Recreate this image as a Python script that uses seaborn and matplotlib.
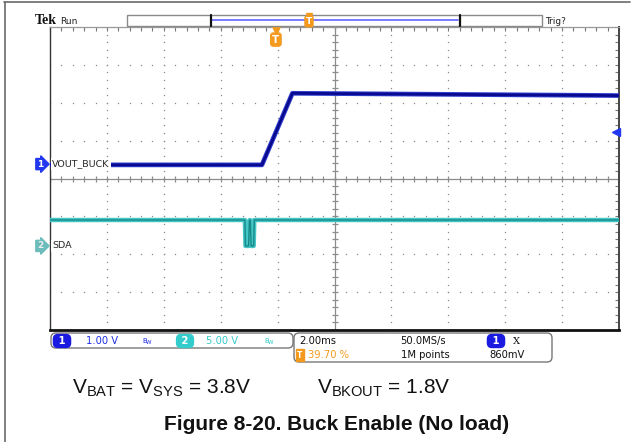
import numpy as np
import pandas as pd
import seaborn as sns
import matplotlib.pyplot as plt
import matplotlib.transforms as mtrans
from matplotlib.patches import FancyBboxPatch, Rectangle
from matplotlib.lines import Line2D

# scope settings
ch1_scale = 1.0      # V/div
ch2_scale = 5.0      # V/div
ch1_pos = 0.38       # ground marker, divisions from centre
ch2_pos = -1.78
time_per_div = 2.0   # ms/div
trig_pct = 39.70     # trigger position, % of record
trig_level = 0.86    # V on ch1
sample_rate = "50.0MS/s"
record_len = "1M points"

# traces, time in ms (0 = trigger)
buck_time = [-7.94, -0.49, 0.58, 12.06]
buck_volts = [-0.02, -0.02, 1.87, 1.81]
sda_time = [-7.94, -1.09, -1.07, -0.96, -0.93, -0.90, -0.87, -0.78, -0.76, 12.06]
sda_volts = [3.42, 3.42, 0.0, 0.0, 3.4, 3.4, 0.0, 0.0, 3.42, 3.42]

W, H = 634, 442
sns.set_style("white")
plt.rcParams["font.family"] = ["DejaVu Sans"]
plt.rcParams["mathtext.fontset"] = "custom"
plt.rcParams["mathtext.rm"] = "Liberation Sans"
plt.rcParams["mathtext.it"] = "Liberation Sans"

fig = plt.figure(figsize=(W / 100, H / 100), dpi=100)
ax = fig.add_axes([50 / W, 1 - 330 / H, 569 / W, 303 / H])
T = fig.dpi_scale_trans


def P(x, y):
    # pixel position (from top-left) -> inches
    return x / 100.0, (H - y) / 100.0


def ptext(x, y, s, **kw):
    kw.setdefault("va", "center")
    kw.setdefault("fontsize", 7.2)
    fig.text(*P(x, y), s, transform=T, **kw)


t0 = -trig_pct / 100 * 10 * time_per_div
t1 = t0 + 10 * time_per_div
ax.set_xlim(t0, t1)
ax.set_ylim(-4, 4)

# graticule
xdiv = [t0 + time_per_div * k for k in range(11)]
xminor = [t0 + time_per_div * k / 5 for k in range(51)]
yminor = [-4 + k / 5 for k in range(41)]
for k in range(1, 10):
    if k == 5:
        continue
    ax.plot([xdiv[k]] * len(yminor), yminor, ls="none", marker="s", ms=0.9,
            color="#8a8a8a", mew=0, zorder=1)
for yy in [-3, -2, -1, 1, 2, 3]:
    ax.plot(xminor, [yy] * len(xminor), ls="none", marker="s", ms=0.9,
            color="#8a8a8a", mew=0, zorder=1)
ax.axvline(xdiv[5], color="#8c8c8c", lw=0.9, zorder=1)
ax.axhline(0, color="#8c8c8c", lw=0.9, zorder=1)
ax.plot([xdiv[5]] * len(yminor), yminor, ls="none", marker="_", ms=5,
        color="#8c8c8c", mew=0.9, zorder=1)
ax.plot(xminor, [0] * len(xminor), ls="none", marker="|", ms=5,
        color="#8c8c8c", mew=0.9, zorder=1)

ax.set_xticks(xminor)
ax.set_yticks(yminor)
ax.tick_params(direction="in", length=3, width=0.8, color="#777777",
               top=True, right=True, labelbottom=False, labelleft=False)
ax.spines["left"].set_color("#333333")
ax.spines["left"].set_linewidth(1.0)
ax.spines["bottom"].set_color("#111111")
ax.spines["bottom"].set_linewidth(2.0)
ax.spines["right"].set_color("#444444")
ax.spines["right"].set_linewidth(1.4)
ax.spines["top"].set_color("#999999")
ax.spines["top"].set_linewidth(0.9)

# traces
df1 = pd.DataFrame({"t": buck_time, "div": np.array(buck_volts) / ch1_scale + ch1_pos})
df2 = pd.DataFrame({"t": sda_time, "div": np.array(sda_volts) / ch2_scale + ch2_pos})
sns.lineplot(data=df2, x="t", y="div", ax=ax, color="#45c6c6", lw=3.2,
             sort=False, estimator=None, zorder=3)
sns.lineplot(data=df2, x="t", y="div", ax=ax, color="#178888", lw=1.0,
             sort=False, estimator=None, zorder=3)
sns.lineplot(data=df1, x="t", y="div", ax=ax, color="#3040d0", lw=3.4,
             sort=False, estimator=None, zorder=4)
sns.lineplot(data=df1, x="t", y="div", ax=ax, color="#0a0a90", lw=2.0,
             sort=False, estimator=None, zorder=4)
ax.set_xlabel("")
ax.set_ylabel("")

# channel labels
bt = mtrans.blended_transform_factory(ax.transAxes, ax.transData)
ax.text(-0.012, ch1_pos, "1", transform=bt, ha="right", va="center", color="white",
        fontsize=6.5, fontweight="bold", clip_on=False, zorder=6,
        bbox=dict(boxstyle="rarrow,pad=0.12", fc="#2238ee", ec="#2238ee"))
ax.text(0.004, ch1_pos, "VOUT_BUCK", transform=bt, ha="left", va="center",
        fontsize=6.8, zorder=5, bbox=dict(boxstyle="square,pad=0.15", fc="white", ec="none"))
ax.text(-0.012, ch2_pos, "2", transform=bt, ha="right", va="center", color="#eeeeee",
        fontsize=6.5, fontweight="bold", clip_on=False, zorder=6,
        bbox=dict(boxstyle="rarrow,pad=0.12", fc="#6cbcbc", ec="#6cbcbc"))
ax.text(0.004, ch2_pos, "SDA", transform=bt, ha="left", va="center",
        fontsize=6.8, zorder=5, bbox=dict(boxstyle="square,pad=0.15", fc="white", ec="none"))

# trigger level arrow and trigger position marker
ax.plot([t1 - 0.1], [trig_level / ch1_scale + ch1_pos], marker="<", ms=5.5,
        color="#2238ee", clip_on=False, zorder=6)
bx = mtrans.blended_transform_factory(ax.transData, ax.transAxes)
ax.plot([0], [0.99], marker="v", ms=5.5, color="#f39a1e", transform=bx,
        clip_on=False, zorder=6)
ax.text(0, 0.975, "T", transform=bx, ha="center", va="top", color="white",
        fontsize=7.5, fontweight="bold", zorder=6,
        bbox=dict(boxstyle="round,pad=0.15,rounding_size=0.25", fc="#f39a1e", ec="#f39a1e"))

# outer frame
fig.add_artist(Line2D([0.04, 6.30], [(H - 2) / 100] * 2, transform=T, color="#6a6a6a", lw=1.2))
fig.add_artist(Line2D([0.045, 0.045], [0, (H - 2) / 100], transform=T, color="#6a6a6a", lw=1.2))

# header
ptext(35, 20, "Tek", fontsize=10, fontweight="bold", family="Liberation Serif", color="#111111")
ptext(60, 21, "Run", fontsize=6.5, color="#222222")
ptext(545, 21, "Trig?", fontsize=6.5, color="#222222")
fig.add_artist(Rectangle(P(127, 26), 4.15, 0.11, transform=T, fc="white", ec="#8a8a8a", lw=1))
fig.add_artist(Line2D([2.12, 4.58], [(H - 20) / 100] * 2, transform=T, color="#6464ff", lw=1.2))
fig.add_artist(Line2D([2.105, 2.105], [(H - 26) / 100, (H - 15) / 100], transform=T, color="#111111", lw=1.6))
fig.add_artist(Line2D([4.595, 4.595], [(H - 26) / 100, (H - 15) / 100], transform=T, color="#111111", lw=1.6))
fig.add_artist(Line2D([3.09], [(H - 16) / 100], transform=T, marker="v", ms=4.5, color="#f39a1e"))
ptext(309, 21.5, "T", ha="center", fontsize=6.5, fontweight="bold", color="white",
      bbox=dict(boxstyle="round,pad=0.1,rounding_size=0.2", fc="#f39a1e", ec="#f39a1e"))

# bottom readout boxes
fig.add_artist(FancyBboxPatch(P(51, 348), 2.42, 0.15, transform=T,
                              boxstyle="round,pad=0,rounding_size=0.05",
                              fc="white", ec="#777777", lw=1))
fig.add_artist(FancyBboxPatch(P(294, 362), 2.58, 0.29, transform=T,
                              boxstyle="round,pad=0,rounding_size=0.05",
                              fc="white", ec="#777777", lw=1))
pill = "round,pad=0.15,rounding_size=0.45"
ptext(62, 341, " 1 ", ha="center", color="white", fontweight="bold",
      bbox=dict(boxstyle=pill, fc="#1a1ae0", ec="#1a1ae0"))
ptext(86, 341, f"{ch1_scale:.2f} V", color="#2030e0")
ptext(142, 341, "B", fontsize=5, color="#2030e0")
ptext(146, 343, "W", fontsize=4, color="#2030e0")
ptext(185, 341, " 2 ", ha="center", color="white", fontweight="bold",
      bbox=dict(boxstyle=pill, fc="#33cccc", ec="#33cccc"))
ptext(206, 341, f"{ch2_scale:.2f} V", color="#35caca")
ptext(264, 341, "B", fontsize=5, color="#35caca")
ptext(268, 343, "W", fontsize=4, color="#35caca")

ptext(299, 341, f"{time_per_div:.2f}ms", color="#111111")
ptext(400, 341, sample_rate, color="#111111")
ptext(496, 341, " 1 ", ha="center", color="white", fontweight="bold",
      bbox=dict(boxstyle=pill, fc="#1a1ae0", ec="#1a1ae0"))
ptext(513, 341, "X", family="DejaVu Serif", color="#111111")
ptext(300, 355, "T", ha="center", fontsize=5.5, fontweight="bold", color="white",
      bbox=dict(boxstyle="square,pad=0.15", fc="#f39a1e", ec="#f39a1e"))
ptext(308, 355, f"{trig_pct:.2f} %", color="#f39a1e")
ptext(401, 355, record_len, color="#111111")
ptext(489, 355, f"{trig_level * 1000:.0f}mV", color="#111111")

# conditions and caption
ptext(72, 388, r"V$_{\mathrm{BAT}}$ = V$_{\mathrm{SYS}}$ = 3.8V", fontsize=15,
      family="Liberation Sans", color="#111111")
ptext(317, 388, r"V$_{\mathrm{BKOUT}}$ = 1.8V", fontsize=15,
      family="Liberation Sans", color="#111111")
ptext(337, 425, "Figure 8-20. Buck Enable (No load)", ha="center", fontsize=15,
      fontweight="bold", family="Liberation Sans", color="#111111")

fig.savefig("out.png", dpi=100)
